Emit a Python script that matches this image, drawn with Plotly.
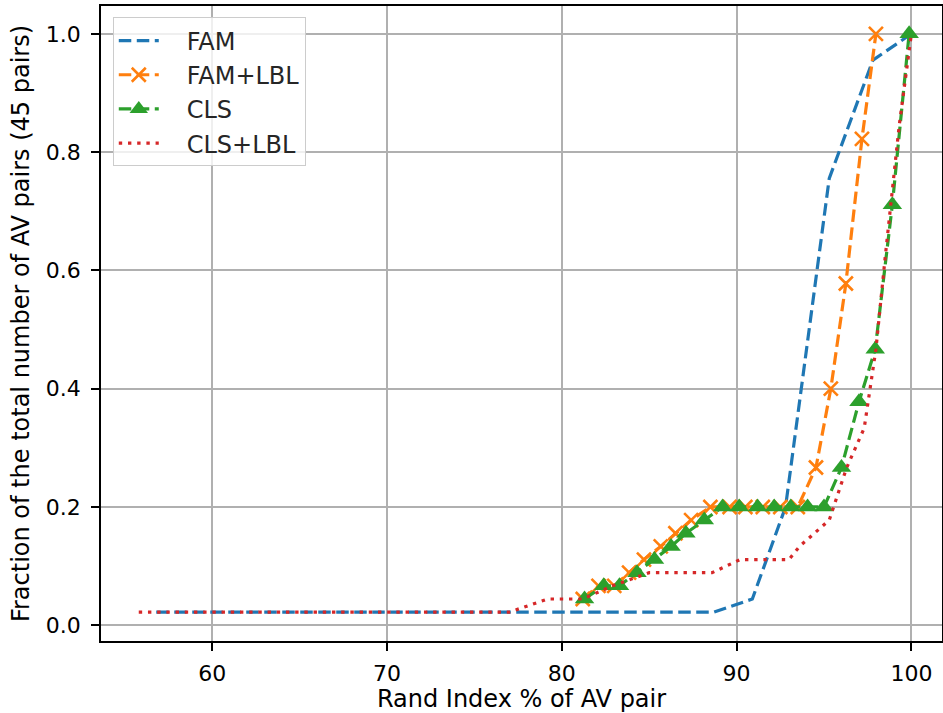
import plotly.graph_objects as go

N_PAIRS = 45

# FAM (blue dashed, no markers)
fam_x = [56.8, 88.7, 90.9, 92.8, 95.3, 97.8, 100.0]
fam_counts = [1, 1, 2, 9, 34, 43, 45]

# FAM+LBL (orange dashed, x markers)
faml_x = [81.2, 82.1, 83.0, 83.85, 84.7, 85.66, 86.5, 87.4, 88.5, 89.6,
          90.5, 91.5, 92.5, 93.5, 94.54, 95.39, 96.25, 97.17, 97.97]
faml_counts = [2, 3, 3, 4, 5, 6, 7, 8, 9, 9, 9, 9, 9, 9, 12, 18, 26, 37, 45]

# CLS (green dashed, triangle markers)
cls_x = [81.3, 82.4, 83.3, 84.3, 85.3, 86.25, 87.1, 88.15, 89.2, 90.15,
         91.2, 92.15, 93.1, 94.06, 95.0, 96.0, 97.0, 97.93, 98.91, 99.87]
cls_counts = [2, 3, 3, 4, 5, 6, 7, 8, 9, 9, 9, 9, 9, 9, 9, 12, 17, 21, 32, 45]

# CLS+LBL (red dotted, no markers)
clsl_x = [55.8, 77.0, 79.2, 81.2, 82.9, 85.0, 88.6, 90.2, 93.0, 93.6,
          95.3, 96.3, 97.3, 97.97, 98.5, 99.3, 100.0]
clsl_counts = [1, 1, 2, 2, 3, 4, 4, 5, 5, 6, 8, 12, 15, 21, 28, 38, 45]

series_names = ["FAM", "FAM+LBL", "CLS", "CLS+LBL"]
x_ticks = [60, 70, 80, 90, 100]
y_ticks = [0.0, 0.2, 0.4, 0.6, 0.8, 1.0]

FONT = "DejaVu Sans"
LW = 3.2
DASH = "12.5px,5.5px"
DOT = "3.4px,5.8px"
PAD = "\u00a0\u00a0\u00a0"

def frac(c):
    return [v / N_PAIRS for v in c]

fig = go.Figure()
fig.add_trace(go.Scatter(x=fam_x, y=frac(fam_counts), mode="lines",
                         name=PAD + series_names[0], legendgroup="a",
                         line=dict(color="#1f77b4", width=LW, dash=DASH)))
fig.add_trace(go.Scatter(x=faml_x, y=frac(faml_counts), mode="lines+markers",
                         name=PAD + series_names[1], legendgroup="b",
                         line=dict(color="#ff7f0e", width=LW, dash=DASH),
                         marker=dict(symbol="x-thin", size=14, color="#ff7f0e",
                                     line=dict(color="#ff7f0e", width=2.6))))
fig.add_trace(go.Scatter(x=cls_x, y=frac(cls_counts), mode="lines+markers",
                         name=PAD + series_names[2], legendgroup="c",
                         line=dict(color="#2ca02c", width=LW, dash=DASH),
                         marker=dict(symbol="triangle-up", size=17, color="#2ca02c",
                                     line=dict(width=0))))
fig.add_trace(go.Scatter(x=clsl_x, y=frac(clsl_counts), mode="lines",
                         name=PAD + series_names[3], legendgroup="d",
                         line=dict(color="#d62728", width=LW, dash=DOT)))

axis_common = dict(
    showline=True, linecolor="black", linewidth=1.8, mirror=True,
    ticks="outside", ticklen=8, tickwidth=1.8, tickcolor="black",
    showgrid=True, gridcolor="#b0b0b0", gridwidth=1.8,
    zeroline=False, automargin=False,
    tickfont=dict(family=FONT, size=22, color="black"),
)

fig.update_xaxes(range=[53.64, 101.75], tickvals=x_ticks,
                 ticktext=[str(t) for t in x_ticks],
                 title=dict(text="Rand Index % of AV pair",
                            font=dict(family=FONT, size=24, color="black"),
                            standoff=8),
                 ticklabelstandoff=4,
                 **axis_common)
fig.update_yaxes(range=[-0.0266, 1.047], tickvals=y_ticks,
                 ticktext=[f"{t:.1f}" for t in y_ticks],
                 title=dict(text="Fraction of the total number of AV pairs (45 pairs)",
                            font=dict(family=FONT, size=24, color="black"),
                            standoff=9),
                 ticklabelstandoff=6,
                 **axis_common)

fig.update_layout(
    width=943, height=713,
    margin=dict(l=101, r=1, t=6, b=72),
    paper_bgcolor="white", plot_bgcolor="white",
    font=dict(family=FONT, size=22, color="black"),
    legend=dict(x=0.014, y=0.982, xanchor="left", yanchor="top",
                bgcolor="rgba(255,255,255,0.8)", bordercolor="#cccccc", borderwidth=1,
                font=dict(family=FONT, size=24, color="#262626"),
                tracegroupgap=0, itemwidth=40),
    showlegend=True,
)

fig.write_html("out.html",
               config={"displayModeBar": False},
               post_script="document.body.style.margin='0';document.body.style.padding='0';")
